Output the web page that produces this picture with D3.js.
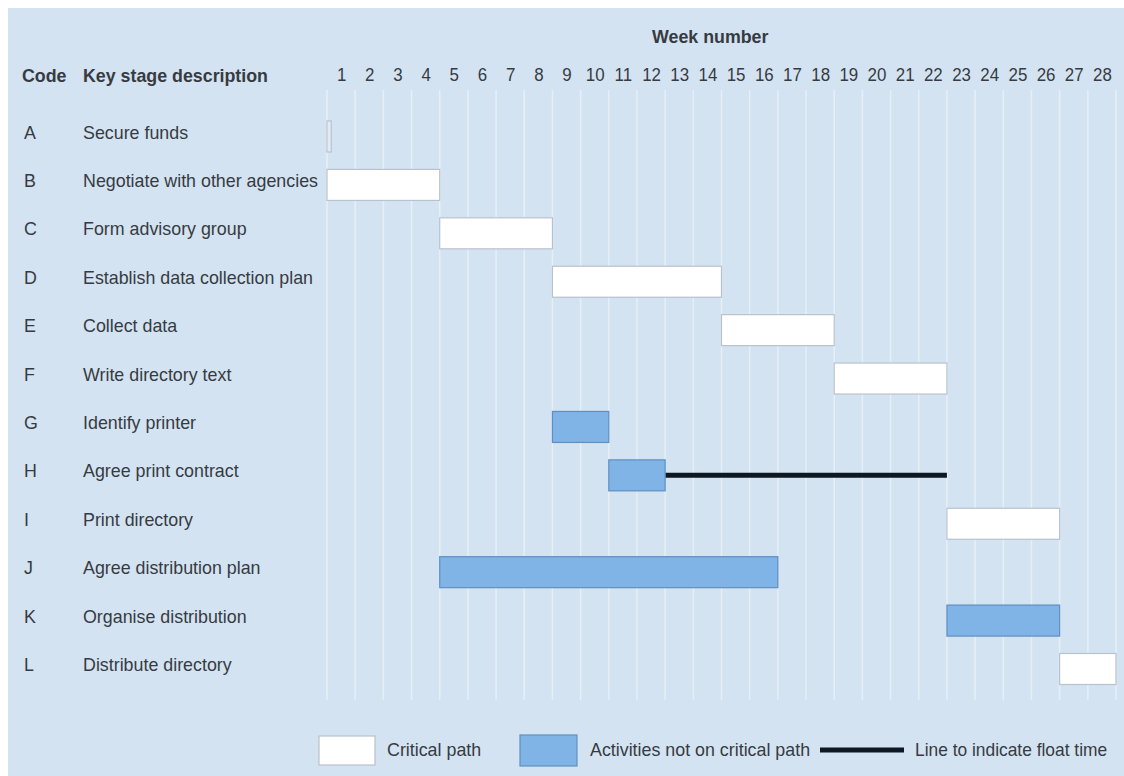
<!DOCTYPE html>
<html><head><meta charset="utf-8">
<script src="https://cdn.jsdelivr.net/npm/d3@7"></script>
<style>
html,body{margin:0;padding:0;background:#fff;}
svg{display:block;}
text{font-family:"Liberation Sans Narrow","Arial Narrow","Liberation Sans",Arial,sans-serif;fill:#363b43;}
</style></head>
<body>
<svg id="chart" width="1124" height="776"></svg>
<script>
const codes = ["A","B","C","D","E","F","G","H","I","J","K","L"];
const descriptions = ["Secure funds","Negotiate with other agencies","Form advisory group","Establish data collection plan","Collect data","Write directory text","Identify printer","Agree print contract","Print directory","Agree distribution plan","Organise distribution","Distribute directory"];
const startWeeks = [1, 1, 5, 9, 15, 19, 9, 11, 23, 5, 23, 27];
const durations = [0.15, 4, 4, 6, 4, 4, 2, 2, 4, 12, 4, 2];
const onCritical = [true, true, true, true, true, true, false, false, true, false, false, true];
const floatWeeks = [0, 0, 0, 0, 0, 0, 0, 10, 0, 0, 0, 0];
const weeks = d3.range(1, 29);
const legendLabels = ["Critical path", "Activities not on critical path", "Line to indicate float time"];

const W = 1124, H = 776;
const svg = d3.select("#chart");
const colBg = "#d4e3f1", colBlue = "#80b3e6", colBlueStroke = "#5f8fc2", colWhiteStroke = "#b9c2cc", colFloat = "#0d1822";

svg.append("rect").attr("x", 8).attr("y", 8).attr("width", W - 8).attr("height", H - 8).attr("fill", colBg);

const x = d3.scaleLinear().domain([1, 29]).range([327, 1116]);
const y = d3.scalePoint().domain(codes).range([136.5, 669]);
const barH = 31;

// grid lines at week boundaries
svg.append("g").selectAll("line").data(d3.range(1, 30)).join("line")
  .attr("x1", d => x(d)).attr("x2", d => x(d))
  .attr("y1", 90).attr("y2", 700)
  .attr("stroke", "#e6eff8").attr("stroke-width", 1.5);

const regular = [], bold = [];

// headers
bold.push(svg.append("text").attr("x", x(14.6)).attr("y", 36).attr("text-anchor", "middle")
  .attr("dominant-baseline", "central").attr("font-size", 19).attr("font-weight", "bold").text("Week number").node());
bold.push(svg.append("text").attr("x", 22).attr("y", 75).attr("dominant-baseline", "central")
  .attr("font-size", 19).attr("font-weight", "bold").text("Code").node());
bold.push(svg.append("text").attr("x", 83).attr("y", 75).attr("dominant-baseline", "central")
  .attr("font-size", 19).attr("font-weight", "bold").text("Key stage description").node());

// week axis labels
const axis = d3.axisTop(x).tickValues(weeks.map(w => w + 0.5)).tickSize(0)
  .tickFormat((d, i) => weeks[i]);
const axG = svg.append("g").attr("transform", "translate(0,87)").call(axis);
axG.select(".domain").remove();
axG.selectAll("text").attr("font-size", 18).attr("dy", 0).attr("y", -6)
  .style("font-family", "\"Liberation Sans\",Arial,sans-serif").attr("fill", "#363b43")
  .each(function(){ regular.push(this); });

// row labels
const rows = codes.map((c, i) => ({code: c, desc: descriptions[i], start: startWeeks[i], dur: durations[i], crit: onCritical[i], fl: floatWeeks[i]}));
const lab = svg.append("g");
lab.selectAll(".code").data(rows).join("text").attr("class", "code")
  .attr("x", 24).attr("y", d => y(d.code) - 4.5).attr("dominant-baseline", "central")
  .attr("font-size", 19).text(d => d.code).each(function(){ regular.push(this); });
lab.selectAll(".desc").data(rows).join("text").attr("class", "desc")
  .attr("x", 83).attr("y", d => y(d.code) - 4.5).attr("dominant-baseline", "central")
  .attr("font-size", 19).text(d => d.desc).each(function(){ regular.push(this); });

// float lines
svg.append("g").selectAll("line").data(rows.filter(d => d.fl > 0)).join("line")
  .attr("x1", d => x(d.start + d.dur)).attr("x2", d => x(d.start + d.dur + d.fl))
  .attr("y1", d => y(d.code)).attr("y2", d => y(d.code))
  .attr("stroke", colFloat).attr("stroke-width", 5);

// bars
svg.append("g").selectAll("rect").data(rows).join("rect")
  .attr("x", d => x(d.start)).attr("width", d => x(d.start + d.dur) - x(d.start))
  .attr("y", d => y(d.code) - barH / 2).attr("height", barH)
  .attr("fill", d => d.crit ? "#ffffff" : colBlue)
  .attr("fill-opacity", d => d.dur < 1 ? 0.3 : 1)
  .attr("stroke", d => d.crit ? colWhiteStroke : colBlueStroke).attr("stroke-width", 1.2);

// legend
const lg = svg.append("g");
lg.append("rect").attr("x", 319).attr("y", 736).attr("width", 56).attr("height", 29)
  .attr("fill", "#fff").attr("stroke", colWhiteStroke).attr("stroke-width", 1.2);
regular.push(lg.append("text").attr("x", 387).attr("y", 749).attr("dominant-baseline", "central").attr("font-size", 19).text(legendLabels[0]).node());
lg.append("rect").attr("x", 520).attr("y", 735).attr("width", 57).attr("height", 31)
  .attr("fill", colBlue).attr("stroke", colBlueStroke).attr("stroke-width", 1.2);
regular.push(lg.append("text").attr("x", 590).attr("y", 749).attr("dominant-baseline", "central").attr("font-size", 19).text(legendLabels[1]).node());
lg.append("line").attr("x1", 820).attr("x2", 904).attr("y1", 750).attr("y2", 750)
  .attr("stroke", colFloat).attr("stroke-width", 5);
regular.push(lg.append("text").attr("x", 915).attr("y", 749).attr("dominant-baseline", "central").attr("font-size", 18.5).text(legendLabels[2]).node());

// condense text to mimic the narrow typeface of the original
function condense(nodes, refNode, targetW) {
  const f = targetW / refNode.getComputedTextLength();
  nodes.forEach(n => {
    const w = n.getComputedTextLength();
    n.setAttribute("textLength", w * f);
    n.setAttribute("lengthAdjust", "spacingAndGlyphs");
  });
}
const refReg = lab.selectAll(".desc").nodes()[1];
condense(regular, refReg, 235);
condense(bold, bold[2], 185);
</script>
</body></html>
